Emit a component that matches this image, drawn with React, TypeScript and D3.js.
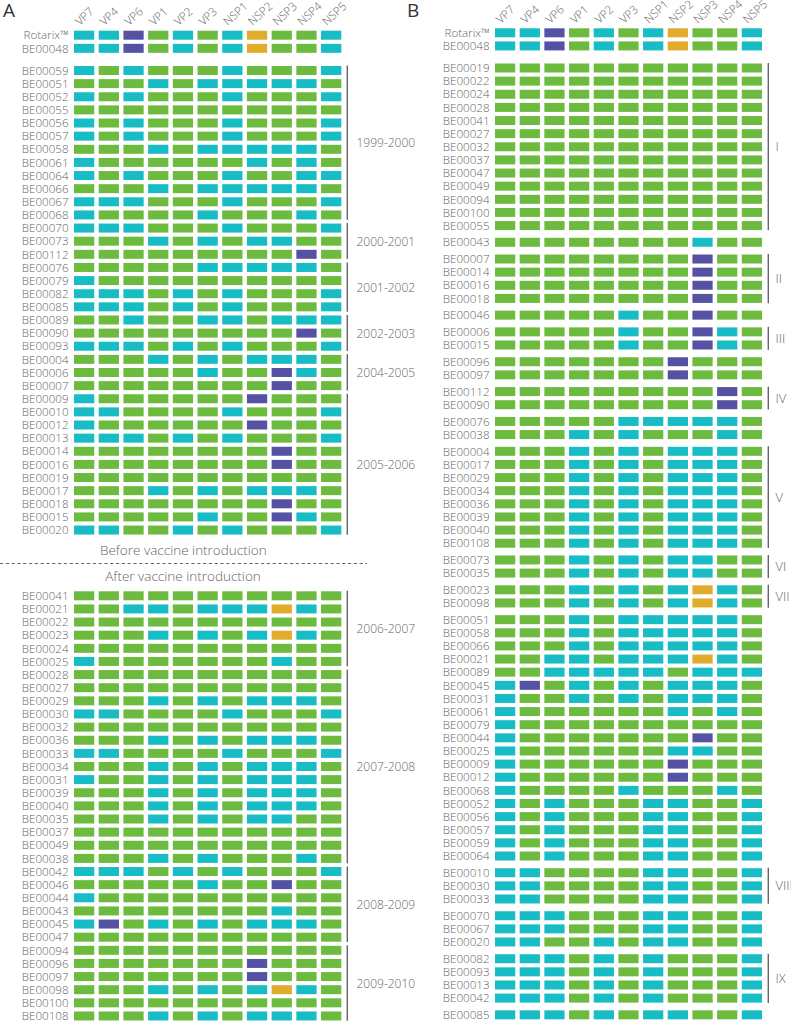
import React from "react";
import * as d3 from "d3";

const segments = ["VP7", "VP4", "VP6", "VP1", "VP2", "VP3", "NSP1", "NSP2", "NSP3", "NSP4", "NSP5"];

// Genotype constellation codes: G = green, C = cyan, P = purple, Y = yellow
const referenceRows: [string, string][] = [
  ["Rotarix™", "CCPGCGCYGGC"],
  ["BE00048", "CCPGCGCYGGC"],
];

const seasonsBefore: { label: string; rows: [string, string][] }[] = [
  { label: "1999-2000", rows: [
    ["BE00059", "CGCGGGCGGGC"], ["BE00051", "GGGCGCCCCCG"], ["BE00052", "CGCGGGCGGGC"],
    ["BE00055", "GGGGGGGGGGG"], ["BE00056", "CGCGGGCGGGC"], ["BE00057", "CGCGGGCGGGC"],
    ["BE00058", "GGGCGCCCCCG"], ["BE00061", "CGGGGGGCGCG"], ["BE00064", "CGCGGGCGGCC"],
    ["BE00066", "GGGCGCCCCCG"], ["BE00067", "CCCGGGCGGGC"], ["BE00068", "CGGGGCGGGCG"],
  ] },
  { label: "2000-2001", rows: [
    ["BE00070", "CCCGGGCGGGC"], ["BE00073", "GGGCGCGCCGG"], ["BE00112", "GGGGGGGGGPG"],
  ] },
  { label: "2001-2002", rows: [
    ["BE00076", "GGGGGCCCCCG"], ["BE00079", "CGGGGGGGGGG"], ["BE00082", "CCCGCGCGGGC"],
    ["BE00085", "CCCGCGCGGGC"],
  ] },
  { label: "2002-2003", rows: [
    ["BE00089", "GGCGGCCGCCC"], ["BE00090", "GGGGGGGGGPG"], ["BE00093", "CCCGCGCGGGC"],
  ] },
  { label: "2004-2005", rows: [
    ["BE00004", "GGGCGCGCCCG"], ["BE00006", "GGGGGCGGPCG"], ["BE00007", "GGGGGGGGPGG"],
  ] },
  { label: "2005-2006", rows: [
    ["BE00009", "CGGGGGGPGGG"], ["BE00010", "CCGGGGCGGGC"], ["BE00012", "CGGGGGGPGGG"],
    ["BE00013", "CCCGCGCGGGC"], ["BE00014", "GGGGGGGGPGG"], ["BE00016", "GGGGGGGGPGG"],
    ["BE00019", "GGGGGGGGGGG"], ["BE00017", "GGGCGCGCCCG"], ["BE00018", "GGGGGGGGPGG"],
    ["BE00015", "GGGGGCGGPCG"], ["BE00020", "CCGGCGCGGGC"],
  ] },
];

const seasonsAfter: { label: string; rows: [string, string][] }[] = [
  { label: "2006-2007", rows: [
    ["BE00041", "GGGGGGGGGGG"], ["BE00021", "GGCCGCCCYCG"], ["BE00022", "GGGGGGGGGGG"],
    ["BE00023", "GGGCGCGCYCG"], ["BE00024", "GGGGGGGGGGG"], ["BE00025", "CGGGGGGGCGG"],
  ] },
  { label: "2007-2008", rows: [
    ["BE00028", "GGGGGGGGGGG"], ["BE00027", "GGGGGGGGGGG"], ["BE00029", "GGGCGCGCCCG"],
    ["BE00030", "CCGGGGCGGGC"], ["BE00032", "GGGGGGGGGGG"], ["BE00036", "GGGCGCGCCCG"],
    ["BE00033", "CCGGGGCGGGC"], ["BE00034", "GGGCGCGCCCG"], ["BE00031", "CGGCGCGCCCG"],
    ["BE00039", "GGGCGCGCCCG"], ["BE00040", "GGGCGCGCCCG"], ["BE00035", "GGGCGCGCCGG"],
    ["BE00037", "GGGGGGGGGGG"], ["BE00049", "GGGGGGGGGGG"], ["BE00038", "GGGCGCGGGCG"],
  ] },
  { label: "2008-2009", rows: [
    ["BE00042", "CCCGCGCGGGC"], ["BE00046", "GGGGGCGGPGG"], ["BE00044", "CGGGGGGGGGG"],
    ["BE00043", "GGGGGGGGCGG"], ["BE00045", "CPGCGCGCCCG"], ["BE00047", "GGGGGGGGGGG"],
  ] },
  { label: "2009-2010", rows: [
    ["BE00094", "GGGGGGGGGGG"], ["BE00096", "GGGGGGGPGGG"], ["BE00097", "GGGGGGGPGGG"],
    ["BE00098", "GGGCGCGCYCG"], ["BE00100", "GGGGGGGGGGG"], ["BE00108", "GGGCGCGCCCG"],
  ] },
];

const clusterBlocks: { label: string | null; rows: [string, string][] }[] = [
  { label: "I", rows: [
    ["BE00019", "GGGGGGGGGGG"], ["BE00022", "GGGGGGGGGGG"], ["BE00024", "GGGGGGGGGGG"],
    ["BE00028", "GGGGGGGGGGG"], ["BE00041", "GGGGGGGGGGG"], ["BE00027", "GGGGGGGGGGG"],
    ["BE00032", "GGGGGGGGGGG"], ["BE00037", "GGGGGGGGGGG"], ["BE00047", "GGGGGGGGGGG"],
    ["BE00049", "GGGGGGGGGGG"], ["BE00094", "GGGGGGGGGGG"], ["BE00100", "GGGGGGGGGGG"],
    ["BE00055", "GGGGGGGGGGG"],
  ] },
  { label: null, rows: [["BE00043", "GGGGGGGGCGG"]] },
  { label: "II", rows: [
    ["BE00007", "GGGGGGGGPGG"], ["BE00014", "GGGGGGGGPGG"], ["BE00016", "GGGGGGGGPGG"],
    ["BE00018", "GGGGGGGGPGG"],
  ] },
  { label: null, rows: [["BE00046", "GGGGGCGGPGG"]] },
  { label: "III", rows: [["BE00006", "GGGGGCGGPCG"], ["BE00015", "GGGGGCGGPCG"]] },
  { label: null, rows: [["BE00096", "GGGGGGGPGGG"], ["BE00097", "GGGGGGGPGGG"]] },
  { label: "IV", rows: [["BE00112", "GGGGGGGGGPG"], ["BE00090", "GGGGGGGGGPG"]] },
  { label: null, rows: [["BE00076", "GGGGGCCCCCG"], ["BE00038", "GGGCGCGGGCG"]] },
  { label: "V", rows: [
    ["BE00004", "GGGCGCGCCCG"], ["BE00017", "GGGCGCGCCCG"], ["BE00029", "GGGCGCGCCCG"],
    ["BE00034", "GGGCGCGCCCG"], ["BE00036", "GGGCGCGCCCG"], ["BE00039", "GGGCGCGCCCG"],
    ["BE00040", "GGGCGCGCCCG"], ["BE00108", "GGGCGCGCCCG"],
  ] },
  { label: "VI", rows: [["BE00073", "GGGCGCGCCGG"], ["BE00035", "GGGCGCGCCGG"]] },
  { label: "VII", rows: [["BE00023", "GGGCGCGCYCG"], ["BE00098", "GGGCGCGCYCG"]] },
  { label: null, rows: [
    ["BE00051", "GGGCGCCCCCG"], ["BE00058", "GGGCGCCCCCG"], ["BE00066", "GGGCGCCCCCG"],
    ["BE00021", "GGCCGCCCYCG"], ["BE00089", "GGCCCCCGCCC"], ["BE00045", "CPGCGCGCCCG"],
    ["BE00031", "CGGCGCGCCCG"], ["BE00061", "CGGGGGGCGCG"], ["BE00079", "CGGGGGGGGGG"],
    ["BE00044", "CGGGGGGGPGG"], ["BE00025", "CGGGGGGCCGG"], ["BE00009", "CGGGGGGPGGG"],
    ["BE00012", "CGGGGGGPGGG"], ["BE00068", "CGGGGCGGGCG"], ["BE00052", "CGCGGGCCGGC"],
    ["BE00056", "CGCGGGCCGGC"], ["BE00057", "CGCGGGCCGGC"], ["BE00059", "CGCGGGCCGGC"],
    ["BE00064", "CGCGGGCCGGC"],
  ] },
  { label: "VIII", rows: [["BE00010", "CCGGGGCCGGC"], ["BE00030", "CCGGGGCCGGC"], ["BE00033", "CCGGGGCCGGC"]] },
  { label: null, rows: [["BE00070", "CCCGGGCCGGC"], ["BE00067", "CCCGGGCCGGC"], ["BE00020", "CCGGCGCCGGC"]] },
  { label: "IX", rows: [
    ["BE00082", "CCCGCGCGGGC"], ["BE00093", "CCCGCGCGGGC"], ["BE00013", "CCCGCGCGGGC"],
    ["BE00042", "CCCGCGCGGGC"],
  ] },
  { label: null, rows: [["BE00085", "CCCGCGCCGGC"]] },
];

const colorScale = d3.scaleOrdinal<string, string>()
  .domain(["G", "C", "P", "Y"])
  .range(["#6cbb3f", "#17bcc4", "#5552a4", "#e1ab2b"]);

const FONT = "'Open Sans', 'Noto Sans', sans-serif";
const TXT = "#666666";
const STEP = 13.13;
const CELL_H = 9;

type Placed = { id: string; code: string; y: number };

function Row({ row, x, labelX }: { row: Placed; x: d3.ScaleBand<string>; labelX: number }) {
  return (
    <g>
      <text x={labelX} y={row.y + 4.2} textAnchor="end" fontSize={11.6} fill={TXT} fontFamily={FONT} fontWeight={300}>
        {row.id}
      </text>
      {segments.map((s, i) => (
        <rect key={s} x={x(s)} y={row.y - CELL_H / 2} width={x.bandwidth()} height={CELL_H}
          fill={colorScale(row.code[i])} />
      ))}
    </g>
  );
}

function Header({ x, y }: { x: d3.ScaleBand<string>; y: number }) {
  return (
    <g>
      {segments.map((s) => {
        const cx = (x(s) as number) + x.bandwidth() / 2 - 4.5;
        return (
          <text key={s} transform={`translate(${cx},${y}) rotate(-42)`} fontSize={11.5} fill={TXT}
            fontFamily={FONT} fontWeight={300}>{s}</text>
        );
      })}
    </g>
  );
}

export default function App() {
  const xA = d3.scaleBand<string>().domain(segments).range([74, 341.3]).paddingInner(0.18).paddingOuter(0);
  const xB = d3.scaleBand<string>().domain(segments).range([495, 762]).paddingInner(0.18).paddingOuter(0);

  const refA: Placed[] = referenceRows.map(([id, code], i) => ({ id, code, y: 35.2 + i * STEP }));
  const refB: Placed[] = referenceRows.map(([id, code], i) => ({ id, code, y: 32.8 + i * STEP }));

  const placeSeasons = (groups: typeof seasonsBefore, y0: number) => {
    let i = 0;
    return groups.map((g) => {
      const rows = g.rows.map(([id, code]) => ({ id, code, y: y0 + (i++) * STEP }));
      return { label: g.label, rows };
    });
  };
  const beforeA = placeSeasons(seasonsBefore, 70.5);
  const afterA = placeSeasons(seasonsAfter, 595.8);

  const GAP = 3.6;
  let bi = 0;
  const blocksB = clusterBlocks.map((b, k) => {
    const rows = b.rows.map(([id, code]) => ({ id, code, y: 68 + (bi++) * STEP + k * GAP }));
    return { label: b.label, rows };
  });

  const bracket = (rows: Placed[], lx: number, tx: number, label: string, fs: number, key: string) => {
    const y1 = rows[0].y - 5;
    const y2 = rows[rows.length - 1].y + 4.8;
    return (
      <g key={key}>
        <line x1={lx} x2={lx} y1={y1} y2={y2} stroke="#666" strokeWidth={1.4} />
        <text x={tx} y={(y1 + y2) / 2 + 4.5} fontSize={fs} fill={TXT} fontFamily={FONT} fontWeight={300}>{label}</text>
      </g>
    );
  };

  return (
    <div style={{ position: "absolute", left: 0, top: 0 }}>
      <svg width={791} height={1021} style={{ display: "block", background: "#fff" }}>
        {/* Panel A */}
        <text x={3} y={17} fontSize={19} fill="#333" fontFamily={FONT} fontWeight={400}>A</text>
        <Header x={xA} y={26} />
        {refA.map((r) => <Row key={"ra" + r.id} row={r} x={xA} labelX={68.5} />)}
        {[...beforeA, ...afterA].map((g) => (
          <g key={"ga" + g.label}>
            {g.rows.map((r) => <Row key={r.id} row={r} x={xA} labelX={68.5} />)}
            {bracket(g.rows, 347.3, 356.5, g.label, 12, "ba" + g.label)}
          </g>
        ))}
        <text x={183.3} y={554.5} textAnchor="middle" fontSize={13.5} fill={TXT} fontFamily={FONT} fontWeight={300}>
          Before vaccine introduction
        </text>
        <line x1={0} x2={367} y1={563.5} y2={563.5} stroke="#666" strokeWidth={1.2} strokeDasharray="3.2,2.6" />
        <text x={183} y={581} textAnchor="middle" fontSize={13.5} fill={TXT} fontFamily={FONT} fontWeight={300}>
          After vaccine introduction
        </text>

        {/* Panel B */}
        <text x={407} y={17} fontSize={19} fill="#333" fontFamily={FONT} fontWeight={400}>B</text>
        <Header x={xB} y={24} />
        {refB.map((r) => <Row key={"rb" + r.id} row={r} x={xB} labelX={489.5} />)}
        {blocksB.map((b, k) => (
          <g key={"bb" + k}>
            {b.rows.map((r) => <Row key={r.id} row={r} x={xB} labelX={489.5} />)}
            {b.label && bracket(b.rows, 768.3, 775.5, b.label, 13, "bl" + k)}
          </g>
        ))}
      </svg>
    </div>
  );
}
